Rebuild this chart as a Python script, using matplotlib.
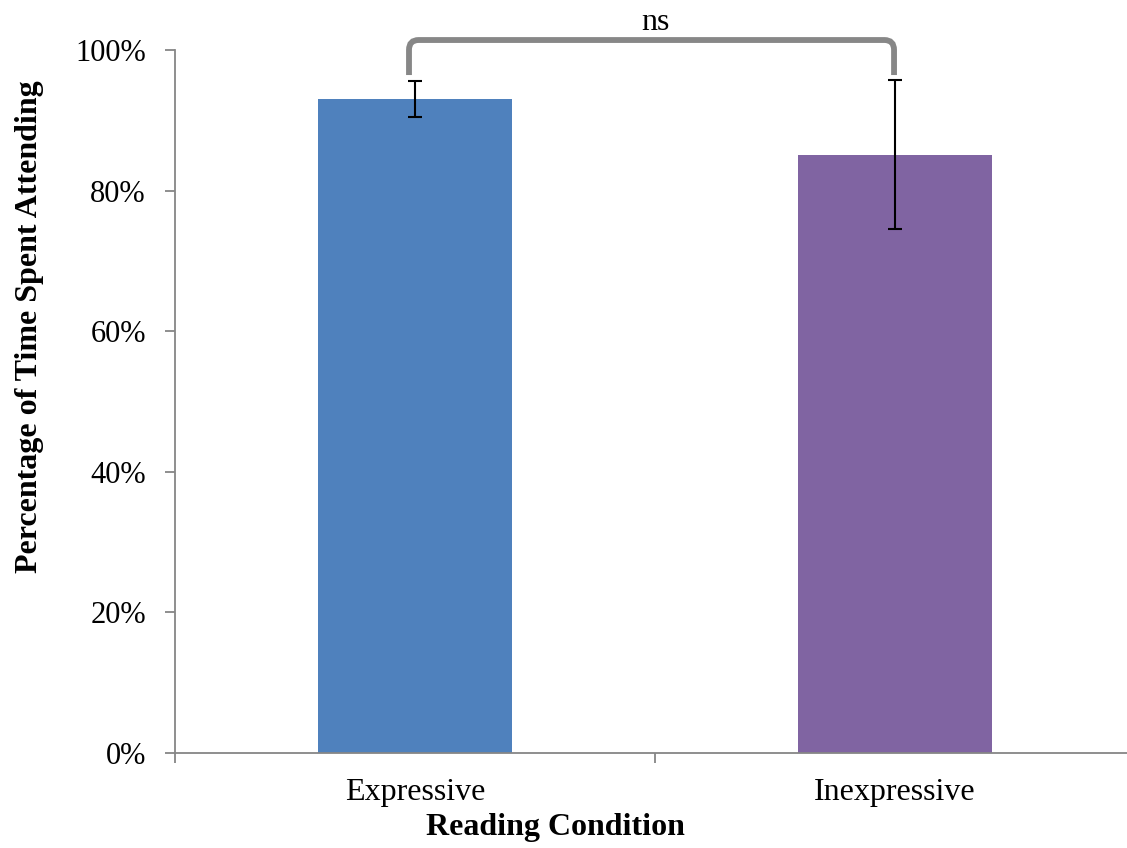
import matplotlib
matplotlib.use("Agg")
import matplotlib.pyplot as plt
from matplotlib.path import Path
from matplotlib.patches import PathPatch
from matplotlib.ticker import FuncFormatter

categories = ["Expressive", "Inexpressive"]
values = [0.930, 0.851]
errors = [0.026, 0.106]
colors = ["#4F81BD", "#8064A2"]
y_ticks = [0, 0.2, 0.4, 0.6, 0.8, 1.0]
sig_label = "ns"
x_title = "Reading Condition"
y_title = "Percentage of Time Spent Attending"

plt.rcParams['font.family'] = ['Liberation Serif', 'DejaVu Serif']

W, H = 1127, 848
fig = plt.figure(figsize=(W / 100, H / 100), dpi=100)
ax = fig.add_axes([175 / W, (H - 753) / H, (W - 175) / W, 703 / H])

xs = list(range(len(categories)))
ax.bar(xs, values, width=0.404, color=colors, zorder=2)
ax.errorbar(xs, values, yerr=errors, fmt='none', ecolor='black',
            elinewidth=1.5, capsize=5, capthick=1.5, zorder=3)

gray = "#868686"
for s in ["top", "right"]:
    ax.spines[s].set_visible(False)
for s in ["left", "bottom"]:
    ax.spines[s].set_color(gray)
    ax.spines[s].set_linewidth(1.3)

ax.set_yticks(y_ticks)
ax.yaxis.set_major_formatter(FuncFormatter(lambda v, p: f"{v*100:.0f}%"))
ax.tick_params(axis='y', direction='out', length=7, width=1.3, color=gray,
               pad=14, labelsize=22, labelcolor='black')

ax.set_xticks([-0.5, 0.5, 1.5])
ax.set_xticklabels([])
ax.tick_params(axis='x', which='major', direction='out', length=7, width=1.3, color=gray)
ax.set_xticks(xs, minor=True)
ax.set_xticklabels(categories, minor=True)
ax.tick_params(axis='x', which='minor', length=0, pad=18, labelsize=23)

ax.set_xlim(-0.5, (W - 415) / 480)
ax.set_ylim(0, 1.0)

# significance bracket
x0 = xs[0] - 0.0125
x1 = xs[1] - 0.002
yb = 0.9644
yt = 1.0142
rx, ry = 0.02, 0.014
verts = [(x0, yb), (x0, yt - ry), (x0, yt), (x0 + rx, yt),
         (x1 - rx, yt), (x1, yt), (x1, yt - ry), (x1, yb)]
codes = [Path.MOVETO, Path.LINETO, Path.CURVE3, Path.CURVE3,
         Path.LINETO, Path.CURVE3, Path.CURVE3, Path.LINETO]
patch = PathPatch(Path(verts, codes), facecolor='none', edgecolor="#878787",
                  linewidth=4.2, capstyle='butt', clip_on=False, zorder=4)
ax.add_patch(patch)

fig.text(655 / W, 1 - 22 / H, sig_label, ha='center', va='center', fontsize=23)
fig.text(555 / W, 1 - 828 / H, x_title, ha='center', va='center',
         fontsize=23, fontweight='bold')
fig.text(30 / W, 1 - 327 / H, y_title, ha='center', va='center',
         rotation=90, fontsize=23, fontweight='bold')

fig.savefig("out.png", dpi=100)
